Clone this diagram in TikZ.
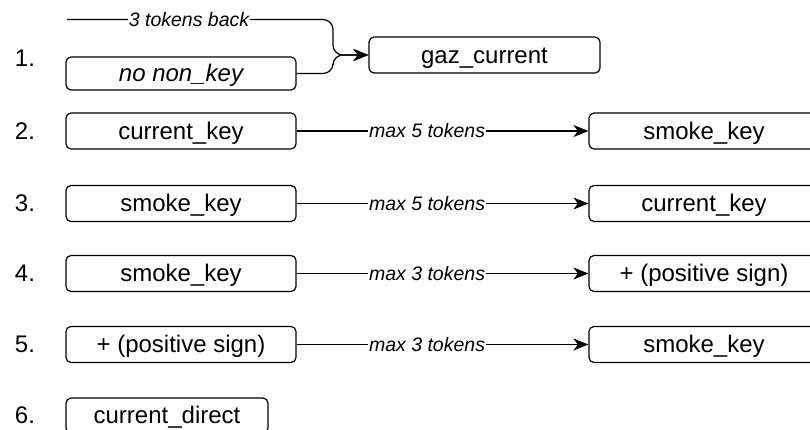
\documentclass[tikz,border=0pt]{standalone}
\usepackage{fontspec}
\setmainfont{Liberation Sans}
\usetikzlibrary{arrows.meta}
\begin{document}
\begin{tikzpicture}[x=1pt,y=-1pt,
  box/.style={draw, rounded corners=5pt, line width=1.2pt, minimum height=36pt,
    inner sep=0pt, text height=19pt, text depth=3pt, font=\fontsize{24}{28}\selectfont},
  num/.style={inner sep=0pt, font=\fontsize{24}{28}\selectfont},
  lab/.style={fill=white, inner sep=1pt, font=\itshape\fontsize{19.5}{22}\selectfont},
  wire/.style={line width=1.2pt},
  link/.style={wire, -{Stealth[length=15pt,width=12pt,inset=4.5pt]}}]
\useasboundingbox (0,0) rectangle (810,429);
\clip (0,0) rectangle (810,429);

% row numbers
\node[num] (n1) at (25,58)  {1.};
\node[num] (n2) at (25,131) {2.};
\node[num] (n3) at (25,203) {3.};
\node[num] (n4) at (25,273) {4.};
\node[num] (n5) at (25,344) {5.};
\node[num] (n6) at (25,415) {6.};

% rule 1: two inputs merging into gaz_current
\coordinate (back) at (67,19.5);
\node[box, minimum width=230pt, minimum height=33pt, font=\itshape\fontsize{24}{28}\selectfont] (nonkey) at (181,73.5) {no non\_key};
\node[box, minimum width=231pt] (gaz) at (484.5,55) {gaz\_current};
\draw[link, rounded corners=10pt] (back) -- (333,19.5) -- (333,55) -- (gaz.west);
\draw[link, rounded corners=10pt] (nonkey.east) -- (333,73.5) -- (333,55) -- (gaz.west);
\node[lab] (lb1) at (189,19.5) {3 tokens back};

% rules 2-5
\node[box, minimum width=230pt] (l2) at (181,131) {current\_key};
\node[box, minimum width=230pt] (r2) at (704,131) {smoke\_key};
\draw[link] (l2) -- node[lab, pos=0.447] {max 5 tokens} (r2);

\node[box, minimum width=230pt] (l3) at (181,203.5) {smoke\_key};
\node[box, minimum width=230pt] (r3) at (704,203.5) {current\_key};
\draw[link] (l3) -- node[lab, pos=0.447] {max 5 tokens} (r3);

\node[box, minimum width=230pt] (l4) at (181,273.5) {smoke\_key};
\node[box, minimum width=230pt] (r4) at (704,273.5) {+ (positive sign)};
\draw[link] (l4) -- node[lab, pos=0.447] {max 3 tokens} (r4);

\node[box, minimum width=230pt] (l5) at (181,344.5) {+ (positive sign)};
\node[box, minimum width=230pt] (r5) at (704,344.5) {smoke\_key};
\draw[link] (l5) -- node[lab, pos=0.447] {max 3 tokens} (r5);

% rule 6
\node[box, minimum width=202pt, minimum height=35pt] (l6) at (167,415.5) {current\_direct};
\end{tikzpicture}
\end{document}
